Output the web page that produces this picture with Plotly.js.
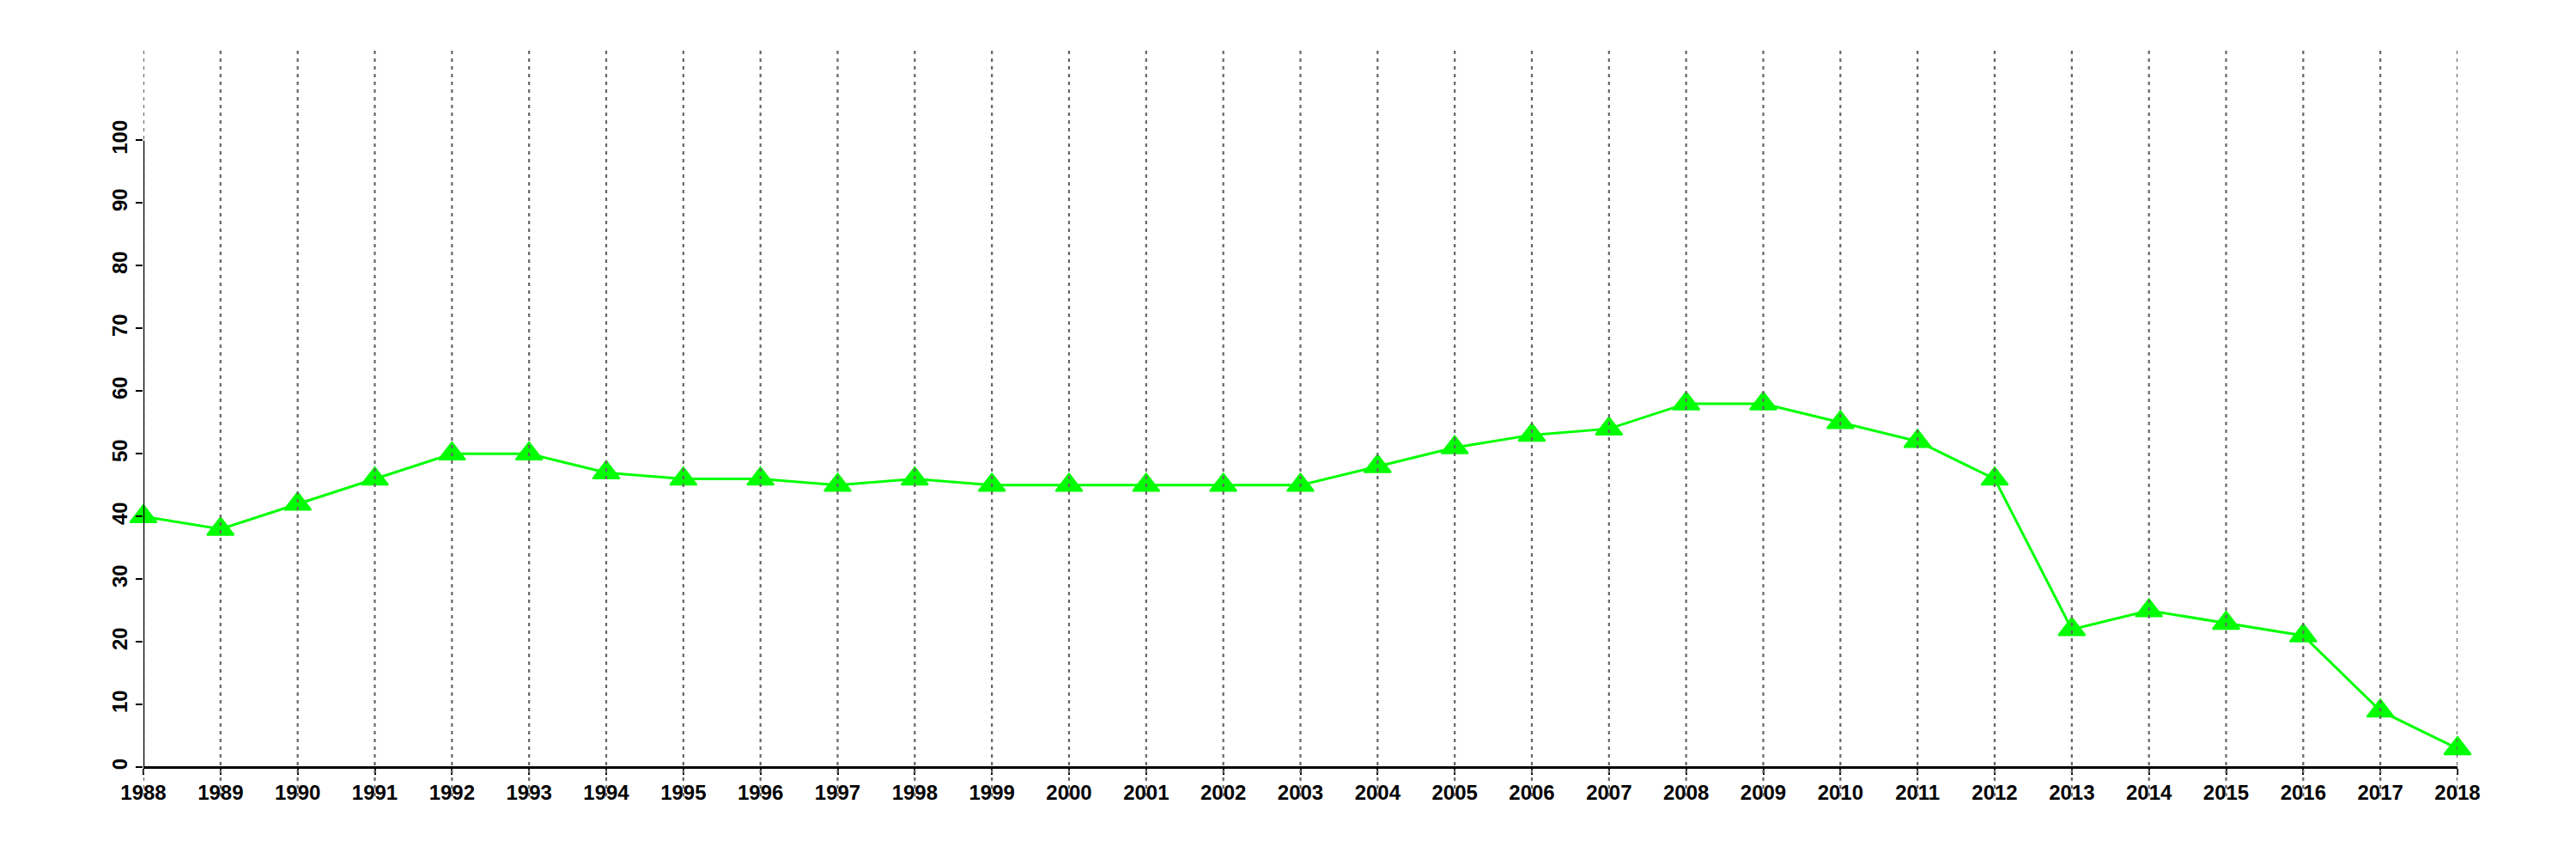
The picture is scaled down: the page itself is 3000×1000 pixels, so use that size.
<!DOCTYPE html>
<html>
<head>
<meta charset="utf-8">
<script src="https://cdn.plot.ly/plotly-3.0.1.min.js"></script>
<style>
  html, body { margin: 0; padding: 0; background: #ffffff; }
  #chart { width: 3000px; height: 1000px; }
</style>
</head>
<body>
<div id="chart"></div>
<script>
// ---- data ----
var years = [1988, 1989, 1990, 1991, 1992, 1993, 1994, 1995, 1996, 1997,
             1998, 1999, 2000, 2001, 2002, 2003, 2004, 2005, 2006, 2007,
             2008, 2009, 2010, 2011, 2012, 2013, 2014, 2015, 2016, 2017, 2018];
var values = [40, 38, 42, 46, 50, 50, 47, 46, 46, 45,
              46, 45, 45, 45, 45, 45, 48, 51, 53, 54,
              58, 58, 55, 52, 46, 22, 25, 23, 21, 9, 3];
var yTicks = [0, 10, 20, 30, 40, 50, 60, 70, 80, 90, 100];
var xTickLabels = years.map(String);

// ---- style ----
var green = '#00FF00';
var tickFont = { family: 'Liberation Sans, Arial, sans-serif', size: 24, color: '#000000', weight: 'bold' };

var trace = {
  x: years,
  y: values,
  type: 'scatter',
  mode: 'lines+markers',
  line: { color: green, width: 3 },
  marker: { symbol: 'triangle-up', size: 27, color: green, line: { color: green, width: 2 } },
  cliponaxis: false,
  hoverinfo: 'x+y'
};

// vertical dotted grid lines, one per year, drawn above the trace
var shapes = years.map(function (yr) {
  return {
    type: 'line', xref: 'x', yref: 'paper',
    x0: yr, x1: yr, y0: 0, y1: 1,
    line: { color: '#666666', width: 2.2, dash: '4px,5px' },
    layer: 'above'
  };
});
// y axis line from first to last y tick
shapes.push({
  type: 'line', xref: 'x', yref: 'y',
  x0: years[0], x1: years[0],
  y0: yTicks[0], y1: yTicks[yTicks.length - 1],
  line: { color: '#000000', width: 2.5 },
  layer: 'above'
});

var yMin = -4.62, yMax = 114.3;
var xAxisPos = (0 - yMin) / (yMax - yMin);

var layout = {
  width: 3000,
  height: 1000,
  paper_bgcolor: '#ffffff',
  plot_bgcolor: '#ffffff',
  showlegend: false,
  margin: { l: 167, r: 138, t: 59, b: 73, pad: 0 },
  xaxis: {
    range: [years[0], years[years.length - 1]],
    tickvals: years,
    ticktext: xTickLabels,
    showgrid: false,
    zeroline: false,
    showline: true,
    linecolor: '#000000',
    linewidth: 2.5,
    ticks: 'outside',
    ticklen: 7,
    tickwidth: 2,
    tickcolor: '#000000',
    tickfont: tickFont,
    tickangle: 0,
    anchor: 'free',
    position: xAxisPos,
    layer: 'above traces'
  },
  yaxis: {
    range: [yMin, yMax],
    tickvals: yTicks,
    ticktext: yTicks.map(String),
    showgrid: false,
    zeroline: false,
    showline: false,
    ticks: 'outside',
    ticklen: 8,
    tickwidth: 2,
    tickcolor: '#000000',
    tickfont: tickFont,
    tickangle: -90
  },
  shapes: shapes
};

Plotly.newPlot('chart', [trace], layout, { displayModeBar: false, staticPlot: true });
</script>
</body>
</html>
